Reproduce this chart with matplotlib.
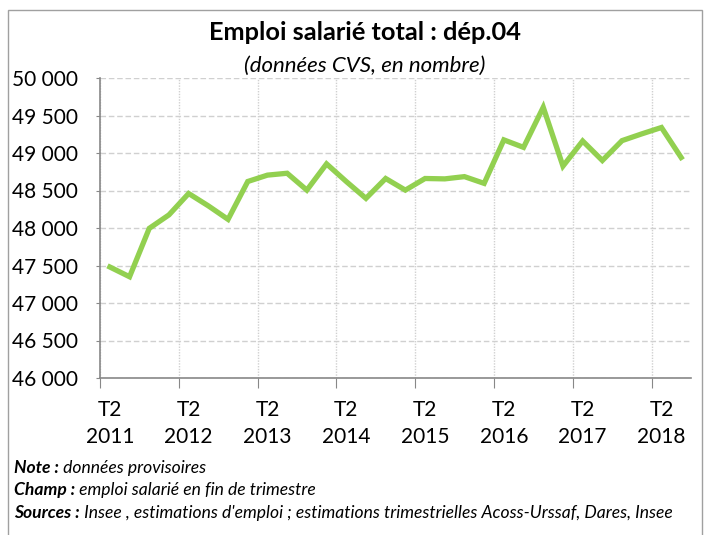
import matplotlib
matplotlib.use("Agg")
import matplotlib.pyplot as plt
from matplotlib.patches import Rectangle
from matplotlib.ticker import FixedLocator, FuncFormatter

plt.rcParams['font.family'] = ['Lato', 'DejaVu Sans']

# Emploi salarié trimestriel, T2 2011 -> T3 2018
emploi = [47480, 47350, 47995, 48175, 48460, 48295, 48115, 48620,
          48705, 48730, 48505, 48855, 48620, 48395, 48660, 48505,
          48660, 48655, 48685, 48595, 49175, 49075, 49610, 48825,
          49160, 48900, 49165, 49255, 49340, 48940]
annees = ['2011', '2012', '2013', '2014', '2015', '2016', '2017', '2018']
y_ticks = [46000, 46500, 47000, 47500, 48000, 48500, 49000, 49500, 50000]

fig = plt.figure(figsize=(7.09, 5.35), dpi=100)

# cadre gris autour du graphique
fig.patches.append(Rectangle((8 / 709, -0.1), 694 / 709, 1.1 - 10 / 535,
                             transform=fig.transFigure, fill=False,
                             edgecolor='#a0a0a0', linewidth=1))

ax = fig.add_axes([100 / 709, 1 - 378 / 535, 591 / 709, 300 / 535])

x = list(range(len(emploi)))
ax.plot(x, emploi, color='#92D050', linewidth=3.8, solid_joinstyle='miter')

ax.set_xlim(-0.5, len(emploi) - 0.5)
ax.set_ylim(46000, 50000)

# graduations
ax.set_yticks(y_ticks)
ax.yaxis.set_major_formatter(FuncFormatter(lambda v, p: f"{int(v):,}".replace(',', ' ')))
ax.xaxis.set_major_locator(FixedLocator([i * 4 - 0.5 for i in range(len(annees))]))
ax.xaxis.set_minor_locator(FixedLocator([i * 4 for i in range(len(annees))]))
ax.set_xticklabels([], minor=False)
ax.set_xticklabels(['T2\n' + a for a in annees], minor=True)
ax.tick_params(axis='x', which='major', length=7, color='#888888', direction='out')
ax.tick_params(axis='x', which='minor', length=0, pad=16, labelsize=15)
ax.tick_params(axis='y', length=3, color='#888888', labelsize=15, pad=13)
for lab in ax.xaxis.get_minorticklabels():
    lab.set_linespacing(1.4)

ax.grid(axis='y', color='#d0d0d0', linestyle=(0, (4, 2)), linewidth=1)
ax.grid(axis='x', which='major', color='#d0d0d0', linestyle=(0, (1, 1)), linewidth=1)
ax.set_axisbelow(True)

for s in ['top', 'right']:
    ax.spines[s].set_visible(False)
for s in ['left', 'bottom']:
    ax.spines[s].set_color('#888888')
    ax.spines[s].set_linewidth(1.2)

fig.text(0.515, 1 - 32 / 535, "Emploi salarié total : dép.04", ha='center', va='center',
         fontsize=18.3, fontweight='bold')
fig.text(0.515, 1 - 66 / 535, "(données CVS, en nombre)", ha='center', va='center',
         fontsize=16, style='italic')

notes = [("Note :", " données provisoires"),
         ("Champ :", " emploi salarié en fin de trimestre"),
         ("Sources :", " Insee , estimations d'emploi ; estimations trimestrielles Acoss-Urssaf, Dares, Insee")]
for k, (lbl, txt) in enumerate(notes):
    yy = 1 - (468 + k * 22.5) / 535
    t = fig.text(14 / 709, yy, lbl, ha='left', va='center', fontsize=12.6,
                 style='italic', fontweight='bold')
    fig.canvas.draw()
    bb = t.get_window_extent()
    fig.text(bb.x1 / fig.bbox.width, yy, txt, ha='left', va='center', fontsize=12.6,
             style='italic')

fig.savefig('out.png', dpi=100)
